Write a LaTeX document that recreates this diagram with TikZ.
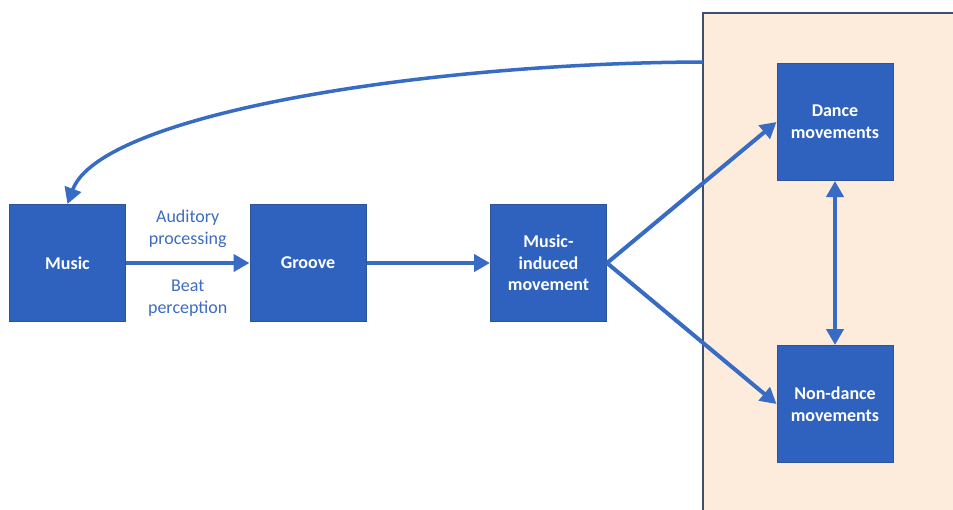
\documentclass[tikz,border=0pt]{standalone}
\usepackage{fontspec}
\setmainfont{Carlito}
\usetikzlibrary{arrows.meta}
\definecolor{boxfill}{RGB}{47,98,190}
\definecolor{boxedge}{RGB}{44,84,150}
\definecolor{arrowblue}{RGB}{55,107,196}
\definecolor{labelblue}{RGB}{62,108,192}
\definecolor{panelfill}{RGB}{253,235,220}
\definecolor{paneledge}{RGB}{63,79,111}
\begin{document}
\begin{tikzpicture}[x=1pt,y=-1pt,
  blk/.style={draw=boxedge, line width=1pt, fill=boxfill, minimum width=116pt, minimum height=117pt, inner sep=0pt, text=white, font=\fontsize{18}{21.7}\selectfont\bfseries, align=center},
  conn/.style={draw=arrowblue, line width=4pt, -{Triangle[length=16pt,width=17pt]}},
  lbl/.style={text=labelblue, font=\fontsize{18}{22}\selectfont, align=center, inner sep=0pt}]
\clip (0,0) rectangle (953,509);
\fill[white] (0,0) rectangle (953,509);
\draw[fill=panelfill, draw=paneledge, line width=1.2pt] (703,13) rectangle (975,535);
\node[blk] (music) at (67.5,263) {Music};
\node[blk] (groove) at (308,263) {Groove};
\node[blk] (mim) at (548.5,263) {Music-\\induced\\movement};
\node[blk] (dance) at (835,122) {Dance\\movements};
\node[blk] (nondance) at (835,404) {Non-dance\\movements};
\coordinate (fb) at (703,62);
\draw[conn] (music) -- node[lbl, above=13pt] (lab1) {Auditory\\processing} node[lbl, below=15pt] (lab2) {Beat\\perception} (groove);
\draw[conn] (groove) -- (mim);
\draw[conn] (mim.east) -- (dance.west);
\draw[conn] (mim.east) -- (nondance.west);
\draw[conn, {Triangle[length=16pt,width=17pt]}-{Triangle[length=16pt,width=17pt]}] (dance) -- (nondance);
\draw[conn, line width=3.5pt] (fb) .. controls (420,63) and (100,115) .. (music.north);
\end{tikzpicture}
\end{document}
